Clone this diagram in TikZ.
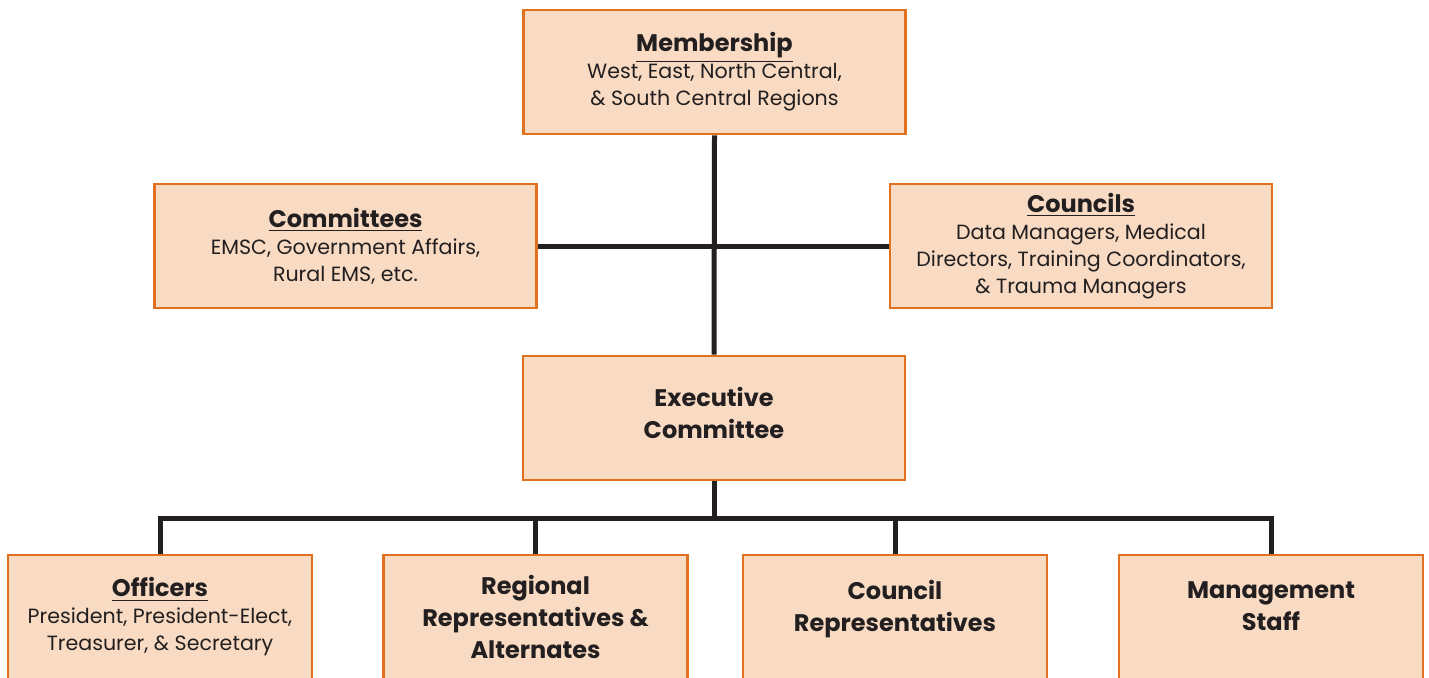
\documentclass[tikz,border=0pt]{standalone}
\usepackage{fontspec}
\setmainfont{Poppins}
\usetikzlibrary{positioning}

\definecolor{boxfill}{HTML}{F8DBC2}
\definecolor{boxline}{HTML}{E2711F}
\definecolor{linkline}{HTML}{231F20}

\tikzset{
  orgbox/.style={draw=boxline, fill=boxfill, line width=1.3pt,
    minimum width=191pt, minimum height=62pt, inner sep=0pt,
    align=center, text=linkline, font=\fontsize{10.3}{13.5}\selectfont},
  lowbox/.style={orgbox, minimum width=152pt},
  headbox/.style={orgbox, font=\fontsize{12}{16}\selectfont\bfseries},
  link/.style={draw=linkline, line width=2.5pt}
}
\newcommand{\boxtitle}[1]{{\fontsize{12}{15}\selectfont\bfseries\underline{#1}}}

\begin{document}
\begin{tikzpicture}[x=0.5pt, y=-0.5pt]
\useasboundingbox (0,0) rectangle (1429,677);
\clip (0,0) rectangle (1429,677);

% Upper boxes
\node (member) [orgbox] at (714.5,72)
  {\boxtitle{Membership}\\West, East, North Central,\\\& South Central Regions};
\node (comm) [orgbox] at (345.5,246)
  {\boxtitle{Committees}\\EMSC, Government Affairs,\\Rural EMS, etc.};
\node (counc) [orgbox] at (1081,246)
  {\boxtitle{Councils}\\Data Managers, Medical\\Directors, Training Coordinators,\\\& Trauma Managers};
\node (exec) [headbox] at (714,418) {Executive\\Committee\\[-11pt]};

% Lower boxes
\node (officers) [lowbox] at (160,617)
  {\boxtitle{Officers}\\President, President-Elect,\\Treasurer, \& Secretary};
\node (regreps) [lowbox, font=\fontsize{12}{16}\selectfont\bfseries] at (535.5,617)
  {Regional\\Representatives \&\\Alternates};
\node (coureps) [lowbox, font=\fontsize{12}{16}\selectfont\bfseries] at (895,617)
  {Council\\Representatives\\[-5pt]};
\node (mgmt) [lowbox, font=\fontsize{12}{16}\selectfont\bfseries] at (1271,617)
  {Management\\Staff\\[-5pt]};

% Connectors
\coordinate (bus) at (exec.south |- 0,518);
\draw[link] (member.south) -- (exec.north);
\draw[link] (comm.east) -- (counc.west);
\draw[link] (exec.south) -- (bus);
\draw[link] (officers.north) |- (bus);
\draw[link] (mgmt.north) |- (bus);
\draw[link] (regreps.north) -- (regreps.north |- bus);
\draw[link] (coureps.north) -- (coureps.north |- bus);

\end{tikzpicture}
\end{document}
